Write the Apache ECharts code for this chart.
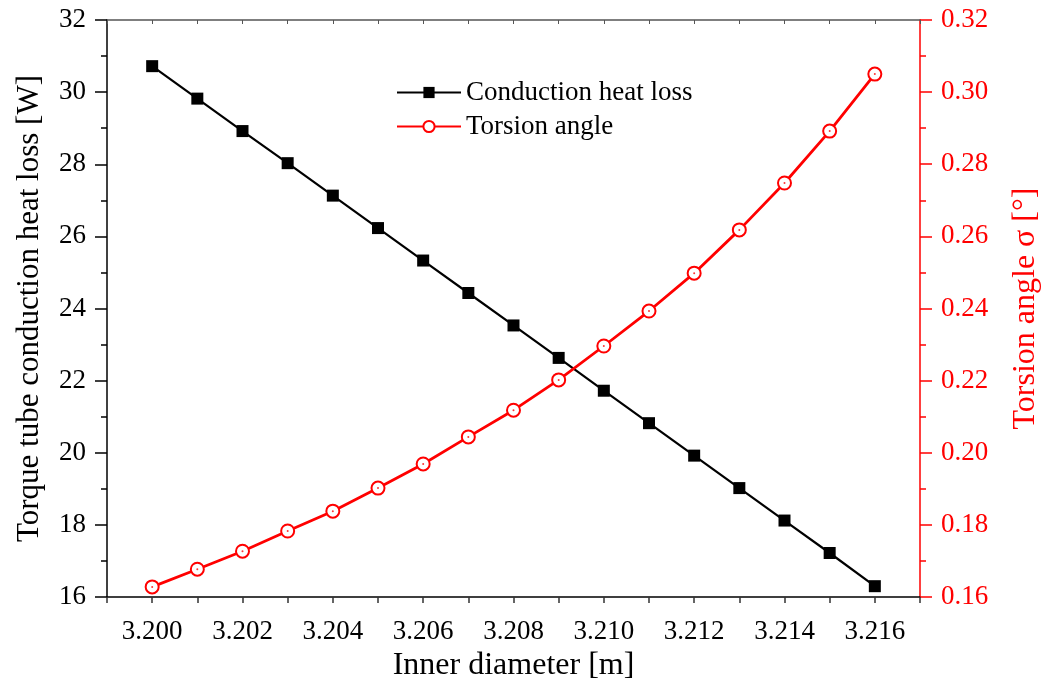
<!DOCTYPE html>
<html>
<head>
<meta charset="utf-8">
<script src="https://cdn.jsdelivr.net/npm/echarts@6/dist/echarts.min.js"></script>
<style>
  html, body { margin: 0; padding: 0; background: #fff; }
  #chart { width: 1045px; height: 691px; }
</style>
</head>
<body>
<div id="chart"></div>
<script>
var diameters = [3.200, 3.201, 3.202, 3.203, 3.204, 3.205, 3.206, 3.207, 3.208,
  3.209, 3.210, 3.211, 3.212, 3.213, 3.214, 3.215, 3.216];
var heatLoss = [30.72, 29.82, 28.92, 28.03, 27.13, 26.23, 25.33, 24.43, 23.53,
  22.63, 21.72, 20.82, 19.92, 19.02, 18.12, 17.22, 16.30];
var torsion = [0.1628, 0.1677, 0.1727, 0.1783, 0.1838, 0.1902, 0.1969, 0.2044, 0.2118,
  0.2202, 0.2296, 0.2393, 0.2498, 0.2618, 0.2748, 0.2892, 0.3050];

var font = 'Liberation Serif';
var pairs = function (ys) {
  return diameters.map(function (x, i) { return [x, ys[i]]; });
};

var chart = echarts.init(document.getElementById('chart'));
chart.setOption({
  animation: false,
  grid: { left: 107, right: 125, top: 20, bottom: 94, outerBoundsMode: 'none', containLabel: false },
  legend: {
    left: 391, top: 74, orient: 'vertical', itemGap: 7,
    itemWidth: 64, itemHeight: 14,
    textStyle: { fontFamily: font, fontSize: 27, color: '#000' },
    data: ['Conduction heat loss', 'Torsion angle']
  },
  xAxis: [{
    type: 'value', min: 3.199, max: 3.217, interval: 0.001,
    name: 'Inner diameter [m]', nameLocation: 'middle', nameGap: 51,
    nameTextStyle: { fontFamily: font, fontSize: 32, color: '#000' },
    axisLine: { onZero: false, lineStyle: { color: '#000', width: 1.5 } },
    axisTick: { length: 6, lineStyle: { color: '#333', width: 1.5 } },
    splitLine: { show: false },
    axisLabel: {
      fontFamily: font, fontSize: 27, color: '#000', margin: 21,
      formatter: function (v) {
        var k = Math.round(v * 1000);
        return (k % 2 === 0 && k >= 3200 && k <= 3216) ? v.toFixed(3) : '';
      }
    }
  }, {
    type: 'value', position: 'top', min: 3.199, max: 3.217, interval: 0.001,
    axisLine: { onZero: false, lineStyle: { color: '#555', width: 1.5 } },
    axisTick: { inside: true, length: 4, lineStyle: { color: '#555' } },
    axisLabel: { show: false }, splitLine: { show: false }
  }],
  yAxis: [{
    type: 'value', min: 16, max: 32, interval: 2,
    name: 'Torque tube conduction heat loss [W]', nameLocation: 'middle', nameGap: 62,
    nameTextStyle: { fontFamily: font, fontSize: 31, color: '#000' },
    axisLine: { show: true, onZero: false, lineStyle: { color: '#000', width: 1.5 } },
    axisTick: { length: 12, lineStyle: { color: '#000', width: 1.5 } },
    minorTick: { show: true, splitNumber: 2, length: 6, lineStyle: { color: '#000', width: 1.5 } },
    splitLine: { show: false },
    axisLabel: { fontFamily: font, fontSize: 27, color: '#000', margin: 21 }
  }, {
    type: 'value', min: 0.16, max: 0.32, interval: 0.02,
    name: 'Torsion angle σ [°]', nameLocation: 'middle', nameGap: 90, nameRotate: 90,
    nameTextStyle: { fontFamily: font, fontSize: 32, color: '#ff0000' },
    axisLine: { show: true, onZero: false, lineStyle: { color: '#ff0000', width: 1.5 } },
    axisTick: { length: 12, lineStyle: { color: '#ff0000', width: 1.5 } },
    minorTick: { show: true, splitNumber: 2, length: 6, lineStyle: { color: '#ff0000', width: 1.5 } },
    splitLine: { show: false },
    axisLabel: {
      fontFamily: font, fontSize: 27, color: '#ff0000', margin: 21,
      formatter: function (v) { return v.toFixed(2); }
    }
  }],
  series: [{
    name: 'Conduction heat loss', type: 'line', yAxisIndex: 0,
    data: pairs(heatLoss),
    symbol: 'rect', symbolSize: 12,
    lineStyle: { color: '#000', width: 2.2 },
    itemStyle: { color: '#000' }
  }, {
    name: 'Torsion angle', type: 'line', yAxisIndex: 1,
    data: pairs(torsion),
    symbol: 'emptyCircle', symbolSize: 13,
    lineStyle: { color: '#ff0000', width: 2.8 },
    itemStyle: { color: '#ff0000', borderWidth: 1.2 }
  }, {
    // centre dots of the open circles
    name: 'dots', type: 'scatter', yAxisIndex: 1, z: 5,
    data: pairs(torsion),
    symbol: 'circle', symbolSize: 2,
    itemStyle: { color: '#ff0000' }
  }]
});
</script>
</body>
</html>
